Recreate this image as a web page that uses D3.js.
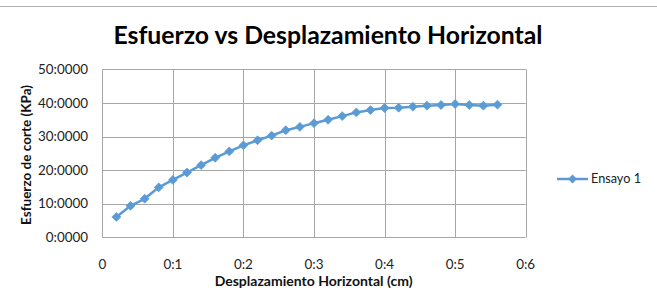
<!DOCTYPE html>
<html>
<head>
<meta charset="utf-8">
<script src="https://cdn.jsdelivr.net/npm/d3@7"></script>
<style>
  html, body { margin: 0; padding: 0; background: #fff; }
  svg { display: block; font-family: Lato, "Open Sans", sans-serif; }
</style>
</head>
<body>
<svg id="chart" width="657" height="306"></svg>
<script>
// data
const displacement = [0.02, 0.04, 0.06, 0.08, 0.10, 0.12, 0.14, 0.16, 0.18, 0.20,
                      0.22, 0.24, 0.26, 0.28, 0.30, 0.32, 0.34, 0.36, 0.38, 0.40,
                      0.42, 0.44, 0.46, 0.48, 0.50, 0.52, 0.54, 0.56]
const stress = [6.1, 9.4, 11.5, 14.9, 17.1, 19.3, 21.5, 23.7, 25.6, 27.4,
                28.9, 30.3, 31.9, 32.9, 34.0, 35.0, 36.1, 37.2, 37.9, 38.5,
                38.6, 38.9, 39.2, 39.4, 39.7, 39.4, 39.2, 39.5]
const xTicks = [0, 0.1, 0.2, 0.3, 0.4, 0.5, 0.6]
const yTicks = [0, 10, 20, 30, 40, 50]
const seriesName = "Ensayo 1"
const title = "Esfuerzo vs Desplazamiento Horizontal"
const xTitle = "Desplazamiento Horizontal (cm)"
const yTitle = "Esfuerzo de corte (KPa)"

const blue = "#5b9bd5"
const gridColor = "#a6a6a6"

const svg = d3.select("#chart")

const x = d3.scaleLinear().domain([0, 0.6]).range([102.3, 525.7])
const y = d3.scaleLinear().domain([0, 50]).range([237.4, 69.4])

// fit a text to a target width by tweaking its font size
function fitWidth(sel, target) {
  let size = parseFloat(sel.attr("font-size"))
  for (let i = 0; i < 4; i++) {
    const w = sel.node().getComputedTextLength()
    size = size * target / w
    sel.attr("font-size", size)
  }
  return size
}

// chart border top
svg.append("line")
  .attr("x1", 0).attr("x2", 657).attr("y1", 6.5).attr("y2", 6.5)
  .attr("stroke", "#b0b0b0").attr("stroke-width", 1)

// gridlines
svg.append("g")
  .selectAll("line")
  .data(yTicks)
  .join("line")
    .attr("x1", x(0)).attr("x2", x(0.6))
    .attr("y1", d => Math.round(y(d)) + 0.5).attr("y2", d => Math.round(y(d)) + 0.5)
    .attr("stroke", gridColor)

svg.append("g")
  .selectAll("line")
  .data(xTicks)
  .join("line")
    .attr("x1", d => Math.round(x(d)) + 0.5).attr("x2", d => Math.round(x(d)) + 0.5)
    .attr("y1", y(50)).attr("y2", y(0))
    .attr("stroke", gridColor)

// tick label size, matched to the width of "50:0000"
const fmtY = d => d3.format(".4f")(d).replace(".", ":")
const fmtX = d => d === 0 ? "0" : d3.format(".1f")(d).replace(".", ":")

const probe = svg.append("text").attr("font-size", 13).text(fmtY(50))
const tickSize = fitWidth(probe, 50)
probe.remove()

svg.append("g")
  .selectAll("text")
  .data(yTicks)
  .join("text")
    .attr("x", 88)
    .attr("y", d => y(d))
    .attr("dy", "0.35em")
    .attr("text-anchor", "end")
    .attr("font-size", tickSize)
    .attr("fill", "#222")
    .text(fmtY)

svg.append("g")
  .selectAll("text")
  .data(xTicks)
  .join("text")
    .attr("x", d => x(d))
    .attr("y", 264.5)
    .attr("dy", "0.35em")
    .attr("text-anchor", "middle")
    .attr("font-size", tickSize)
    .attr("fill", "#222")
    .text(fmtX)

// series
const pts = displacement.map((d, i) => [d, stress[i]])

svg.append("path")
  .datum(pts)
  .attr("fill", "none")
  .attr("stroke", blue)
  .attr("stroke-width", 2.5)
  .attr("stroke-linejoin", "round")
  .attr("d", d3.line().x(d => x(d[0])).y(d => y(d[1])))

const diamond = d3.symbol().type(d3.symbolDiamond2).size(50)

svg.append("g")
  .selectAll("path")
  .data(pts)
  .join("path")
    .attr("transform", d => `translate(${x(d[0])},${y(d[1])})`)
    .attr("d", diamond)
    .attr("fill", blue)
    .attr("stroke", blue)
    .attr("stroke-width", 0.8)

// titles
const t = svg.append("text")
  .attr("x", 328).attr("y", 43.5)
  .attr("text-anchor", "middle")
  .attr("font-weight", "bold")
  .attr("font-size", 22)
  .attr("fill", "#000")
  .text(title)
fitWidth(t, 429)

const xt = svg.append("text")
  .attr("x", 313.6).attr("y", 285.8)
  .attr("text-anchor", "middle")
  .attr("font-weight", "bold")
  .attr("font-size", 13)
  .attr("fill", "#111")
  .text(xTitle)
fitWidth(xt, 198)

const yt = svg.append("text")
  .attr("transform", "translate(31,155) rotate(-90)")
  .attr("text-anchor", "middle")
  .attr("font-weight", "bold")
  .attr("font-size", 13)
  .attr("fill", "#111")
  .text(yTitle)
fitWidth(yt, 140)

// legend
const lg = svg.append("g").attr("transform", "translate(557,179)")
lg.append("line")
  .attr("x1", 0).attr("x2", 31).attr("y1", 0).attr("y2", 0)
  .attr("stroke", blue).attr("stroke-width", 2.5)
lg.append("path")
  .attr("transform", "translate(15.5,0)")
  .attr("d", diamond)
  .attr("fill", blue)
const lt = lg.append("text")
  .attr("x", 34).attr("y", 0).attr("dy", "0.35em")
  .attr("font-size", tickSize)
  .attr("fill", "#222")
  .text(seriesName)
fitWidth(lt, 50)
</script>
</body>
</html>
